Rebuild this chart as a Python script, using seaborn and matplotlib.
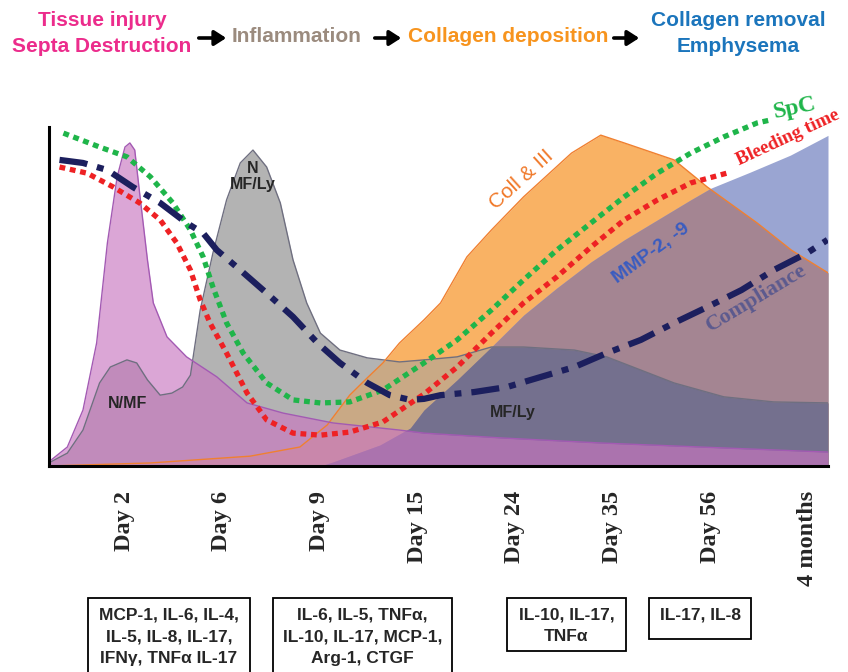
import numpy as np
import matplotlib.pyplot as plt
import seaborn as sns
from matplotlib.patches import Rectangle, FancyArrowPatch

# timeline position: Day 2 = 1 ... 4 months = 8, level in % of the axis height
tick_labels = ["Day 2", "Day 6", "Day 9", "Day 15", "Day 24", "Day 35", "Day 56", "4 months"]

pink_x = [0.23, 0.42, 0.58, 0.72, 0.83, 0.93, 1.01, 1.06, 1.11, 1.16, 1.24, 1.30, 1.44, 1.64,
          1.95, 2.26, 2.63, 3.14, 3.82, 4.07, 4.85, 5.87, 6.90, 8.21]
pink_y = [1.2, 5.6, 16.5, 36.3, 65.8, 85.3, 94.1, 95.3, 93.2, 80.5, 60.8, 48.1, 38.1, 32.2,
          26.3, 18.6, 15.6, 12.7, 10.6, 9.7, 8.3, 6.8, 5.6, 4.1]

gray_x = [0.23, 0.42, 0.58, 0.75, 0.86, 1.03, 1.13, 1.24, 1.37, 1.49, 1.60, 1.68, 1.78, 1.91,
          2.05, 2.19, 2.32, 2.46, 2.60, 2.73, 2.87, 3.01, 3.21, 3.49, 3.82, 4.07, 4.41, 4.76,
          5.09, 5.61, 5.94, 6.29, 6.63, 7.14, 7.65, 8.21]
gray_y = [0.9, 3.8, 10.6, 24.5, 29.2, 31.3, 30.4, 25.4, 20.9, 21.5, 23.3, 26.8, 46.0, 62.8,
          78.5, 89.4, 93.2, 88.2, 77.6, 60.8, 48.1, 39.2, 34.2, 31.9, 30.7, 31.3, 32.2, 35.1,
          35.1, 34.2, 32.2, 28.3, 24.5, 20.4, 18.9, 18.6]

coll_x = [0.23, 1.27, 2.29, 2.80, 3.08, 3.31, 3.49, 3.65, 3.82, 4.07, 4.24, 4.51, 4.76, 5.09,
          5.58, 5.88, 6.12, 6.63, 6.97, 7.48, 7.83, 8.21]
coll_y = [0.0, 0.9, 2.9, 5.6, 12.1, 20.9, 26.0, 30.4, 36.3, 43.1, 48.1, 61.7, 69.6, 79.4,
          92.3, 97.6, 95.3, 90.3, 82.3, 71.7, 63.7, 56.9]

mmp_x = [3.01, 3.14, 3.62, 3.93, 4.07, 4.41, 4.76, 5.09, 5.43, 5.78, 6.12, 6.46, 6.80, 7.01,
         7.41, 7.82, 8.21]
mmp_y = [0.0, 1.2, 6.2, 11.2, 16.5, 25.4, 35.1, 44.5, 52.5, 60.2, 66.7, 72.6, 78.5, 82.0,
         86.7, 91.7, 97.6]

spc_x = [0.38, 0.75, 1.03, 1.27, 1.50, 1.68, 1.81, 1.91, 2.05, 2.22, 2.46, 2.73, 3.01, 3.31,
         3.65, 4.07, 4.41, 4.76, 5.09, 5.43, 5.78, 6.12, 6.46, 6.80, 7.14, 7.48, 7.62]
spc_y = [98.2, 94.1, 91.2, 85.3, 77.6, 69.6, 61.7, 52.8, 42.2, 33.3, 24.5, 19.5, 18.6, 18.9,
         22.4, 30.4, 37.2, 46.0, 54.9, 63.7, 71.7, 79.4, 86.4, 92.3, 97.1, 101.2, 102.1]

bleed_x = [0.34, 0.62, 0.89, 1.16, 1.37, 1.54, 1.68, 1.78, 1.88, 2.05, 2.26, 2.46, 2.73, 3.01,
           3.31, 3.65, 4.07, 4.41, 4.76, 5.09, 5.43, 5.78, 6.12, 6.46, 6.80, 7.21]
bleed_y = [88.2, 86.4, 82.3, 77.6, 72.6, 65.8, 57.8, 49.0, 42.2, 33.3, 21.5, 13.6, 9.7, 9.1,
           10.0, 13.0, 21.2, 29.2, 39.2, 48.1, 55.8, 64.6, 72.6, 78.5, 83.5, 86.7]

comp_x = [0.34, 0.58, 0.83, 1.09, 1.37, 1.64, 1.81, 1.95, 2.19, 2.46, 2.73, 2.98, 3.21, 3.49,
          3.72, 3.93, 4.07, 4.24, 4.58, 4.92, 5.27, 5.61, 5.94, 6.29, 6.63, 6.97, 7.32, 7.65,
          7.99, 8.20]
comp_y = [90.3, 89.4, 87.3, 82.3, 77.6, 71.7, 68.7, 63.7, 57.8, 51.0, 44.0, 36.3, 30.4, 24.5,
          20.9, 19.5, 19.8, 20.9, 21.8, 23.3, 26.3, 29.2, 33.3, 37.2, 42.2, 46.9, 51.9, 57.8,
          62.8, 66.7]

box_texts = ["MCP-1, IL-6, IL-4,\nIL-5, IL-8, IL-17,\nIFN\u03b3, TNF\u03b1 IL-17",
             "IL-6, IL-5, TNF\u03b1,\nIL-10, IL-17, MCP-1,\nArg-1, CTGF",
             "IL-10, IL-17,\nTNF\u03b1",
             "IL-17, IL-8"]

sns.set_style("white")
sans = ["Liberation Sans Narrow", "Liberation Sans", "DejaVu Sans"]
serif = ["Liberation Serif", "DejaVu Serif"]
plt.rcParams["font.family"] = sans

fig = plt.figure(figsize=(8.48, 6.72), dpi=100)
ax = fig.add_axes([49 / 848, 206 / 672, 779 / 848, 380 / 672])
ax.set_xlim(0.2323, 8.2057)
ax.set_ylim(0, 112.1)

# shared grid only used to build the overlap polygons
xg = np.linspace(0.2323, 8.2057, 1600)
pink = np.interp(xg, pink_x, pink_y, left=0, right=0)
gray = np.interp(xg, gray_x, gray_y, left=0, right=0)
coll = np.interp(xg, coll_x, coll_y, left=0, right=0)
mmp = np.interp(xg, mmp_x, mmp_y, left=0, right=0)

ax.fill_between(xg, 0, gray, color="#b3b3b3", lw=0, zorder=1)
ax.fill_between(xg, 0, coll, color="#f9b264", lw=0, zorder=1.1)
ax.fill_between(xg, 0, mmp, color="#9aa5d2", lw=0, zorder=1.2)
ax.fill_between(xg, 0, np.minimum(gray, coll), color="#c9a985", lw=0, zorder=1.3)
ax.fill_between(xg, 0, np.minimum(mmp, coll), color="#a48592", lw=0, zorder=1.4)
ax.fill_between(xg, 0, np.minimum(mmp, gray), color="#74708e", lw=0, zorder=1.5)
ax.fill_between(xg, 0, pink, color="#c976c0", alpha=0.65, lw=0, zorder=1.6)

ax.plot(gray_x, gray_y, color="#6f6f80", lw=1.0, zorder=1.7)
ax.plot(coll_x, coll_y, color="#f08030", lw=1.0, zorder=1.7)
ax.plot(pink_x, pink_y, color="#a35ab3", lw=1.0, zorder=1.7)

dot = (0, (1.1, 0.9))
sns.lineplot(x=spc_x, y=spc_y, sort=False, estimator=None, color="#1fb54a", lw=3.8,
             linestyle=dot, dash_capstyle="butt", ax=ax, zorder=3)
sns.lineplot(x=bleed_x, y=bleed_y, sort=False, estimator=None, color="#ee2124", lw=3.8,
             linestyle=dot, dash_capstyle="butt", ax=ax, zorder=3)
sns.lineplot(x=comp_x, y=comp_y, sort=False, estimator=None, color="#1c1f5e", lw=4.5,
             linestyle=(0, (4.5, 1.6, 1.1, 1.6)), dash_capstyle="butt", ax=ax, zorder=3.1)

for s in ["top", "right"]:
    ax.spines[s].set_visible(False)
ax.spines["left"].set_bounds(0, 100)
for s in ["left", "bottom"]:
    ax.spines[s].set_linewidth(2.2)
    ax.spines[s].set_color("black")
ax.set_yticks([])
ax.set_xticks(range(1, 9))
ax.set_xticklabels(tick_labels, rotation=90, fontsize=17.5, fontweight="bold",
                   family=serif, va="top")
ax.tick_params(axis="x", direction="out", length=9, width=1.6, pad=9, color="black")

# labels inside the chart
ax.text(2.32, 85.3, "N\nMF/Ly", ha="center", va="center", fontsize=11.5, fontweight="bold",
        family=["Liberation Sans"], linespacing=1.1, zorder=5)
ax.text(1.04, 18.4, "N/MF", ha="center", va="center", fontsize=11.5, fontweight="bold",
        family=["Liberation Sans"], zorder=5)
ax.text(4.98, 15.9, "MF/Ly", ha="center", va="center", fontsize=11.5, fontweight="bold",
        family=["Liberation Sans"], zorder=5)
ax.text(5.07, 84.4, "Coll & III", ha="center", va="center", fontsize=15, color="#f07828",
        rotation=42, family=["Liberation Sans"], zorder=5)
ax.text(6.40, 62.8, "MMP-2, -9", ha="center", va="center", fontsize=14, fontweight="bold",
        color="#3a5cc0", rotation=36, family=["Liberation Sans"], zorder=5)
ax.text(7.47, 49.6, "Compliance", ha="center", va="center", fontsize=16, fontweight="bold",
        color="#5c5a8e", rotation=31, family=serif, zorder=5)
ax.text(7.87, 105.6, "SpC", ha="center", va="center", fontsize=17, fontweight="bold",
        color="#1fb54a", rotation=12, family=serif, zorder=5, clip_on=False)
ax.text(7.80, 96.8, "Bleeding time", ha="center", va="center", fontsize=13.8,
        fontweight="bold", color="#ee2124", rotation=25, family=serif, zorder=5, clip_on=False)


def fx(px):
    return px / 848


def fy(py):
    return 1 - py / 672


# header
hdr = dict(ha="center", va="center", fontsize=15, fontweight="bold")
fig.text(fx(102), fy(20), "Tissue injury", color="#ec2c8c", **hdr)
fig.text(fx(102), fy(46), "Septa Destruction", color="#ec2c8c", **hdr)
fig.text(fx(297), fy(37), "Inflammation", color="#9b8b7e", **hdr)
fig.text(fx(508), fy(37), "Collagen deposition", color="#f7941e", **hdr)
fig.text(fx(738), fy(20), "Collagen removal", color="#1b75bc", **hdr)
fig.text(fx(738), fy(46), "Emphysema", color="#1b75bc", **hdr)
for x0, x1 in [(196, 229), (372, 404), (611, 642)]:
    fig.add_artist(FancyArrowPatch(
        (fx(x0), fy(38)), (fx(x1), fy(38)), transform=fig.transFigure,
        arrowstyle="-|>,head_length=7,head_width=4.5", lw=2.6, color="black"))

# cytokine boxes
boxes = [(88, 250, 598, 690), (273, 452, 598, 690), (507, 626, 598, 651), (649, 751, 598, 639)]
for (x0, x1, y0, y1), txt in zip(boxes, box_texts):
    fig.add_artist(Rectangle((fx(x0), fy(y1)), fx(x1 - x0), (y1 - y0) / 672,
                             transform=fig.transFigure, fill=False, lw=1.3, ec="black"))
    fig.text(fx((x0 + x1) / 2), fy(607), txt, ha="center", va="top", fontsize=12.5,
             fontweight="bold", linespacing=1.6)

fig.savefig("out.png", dpi=100)
